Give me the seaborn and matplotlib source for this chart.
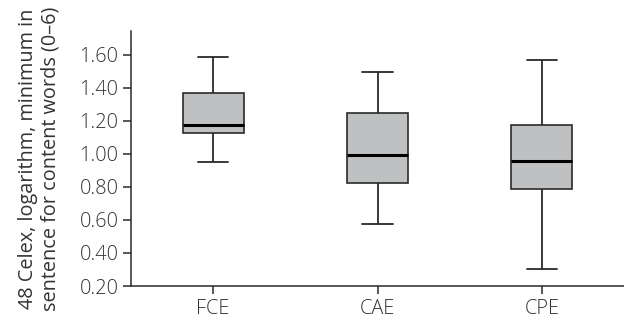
import numpy as np
import pandas as pd
import matplotlib
matplotlib.use("Agg")
import matplotlib.pyplot as plt
import seaborn as sns

# ==========================================
# Data: five-number summaries
# (low whisker, Q1, median, Q3, high whisker)
# ==========================================
groups = ["FCE", "CAE", "CPE"]
fce_vals = [0.95, 1.125, 1.178, 1.37, 1.59]
cae_vals = [0.578, 0.824, 0.995, 1.247, 1.497]
cpe_vals = [0.305, 0.79, 0.958, 1.174, 1.572]
y_ticks = [0.20, 0.40, 0.60, 0.80, 1.00, 1.20, 1.40, 1.60]

ylabel = "48 Celex, logarithm, minimum in\nsentence for content words (0\u20136)"

df = pd.DataFrame({
    "group": np.repeat(groups, 5),
    "value": fce_vals + cae_vals + cpe_vals,
})

# ==========================================
# Plot
# ==========================================
sns.set_theme(style="ticks")
plt.rcParams["font.family"] = ["Open Sans", "DejaVu Sans"]
plt.rcParams["font.weight"] = "light"
text_col = "#333333"
line_col = "#2a2a2a"
fsize = 14.3

fig = plt.figure(figsize=(6.24, 3.22), dpi=100)
ax = fig.add_axes([131 / 624, 36 / 322, 1 - 131 / 624, (286 - 31) / 322])

sns.boxplot(
    data=df, x="group", y="value", order=groups,
    whis=(0, 100), width=0.37, color="#bfc0c2", saturation=1,
    linecolor=line_col, linewidth=1.2, showfliers=False,
    medianprops=dict(color="black", linewidth=2.2),
    whiskerprops=dict(linewidth=1.3),
    capprops=dict(linewidth=1.3),
    ax=ax,
)

ax.set_xlim(-0.5, 2.5)
ax.set_ylim(0.20, 1.745)
ax.set_yticks(y_ticks)
ax.set_yticklabels([f"{t:.2f}" for t in y_ticks])
ax.set_xlabel("")
ax.set_ylabel(ylabel, fontsize=fsize, color=text_col, labelpad=14, linespacing=1.12)

for s in ["top", "right"]:
    ax.spines[s].set_visible(False)
for s in ["left", "bottom"]:
    ax.spines[s].set_color(line_col)
    ax.spines[s].set_linewidth(1.1)

ax.tick_params(axis="both", colors=line_col, labelcolor=text_col,
               labelsize=fsize, length=6, width=1.1, direction="out", pad=3)

fig.savefig("out.png", dpi=100)
plt.close(fig)
